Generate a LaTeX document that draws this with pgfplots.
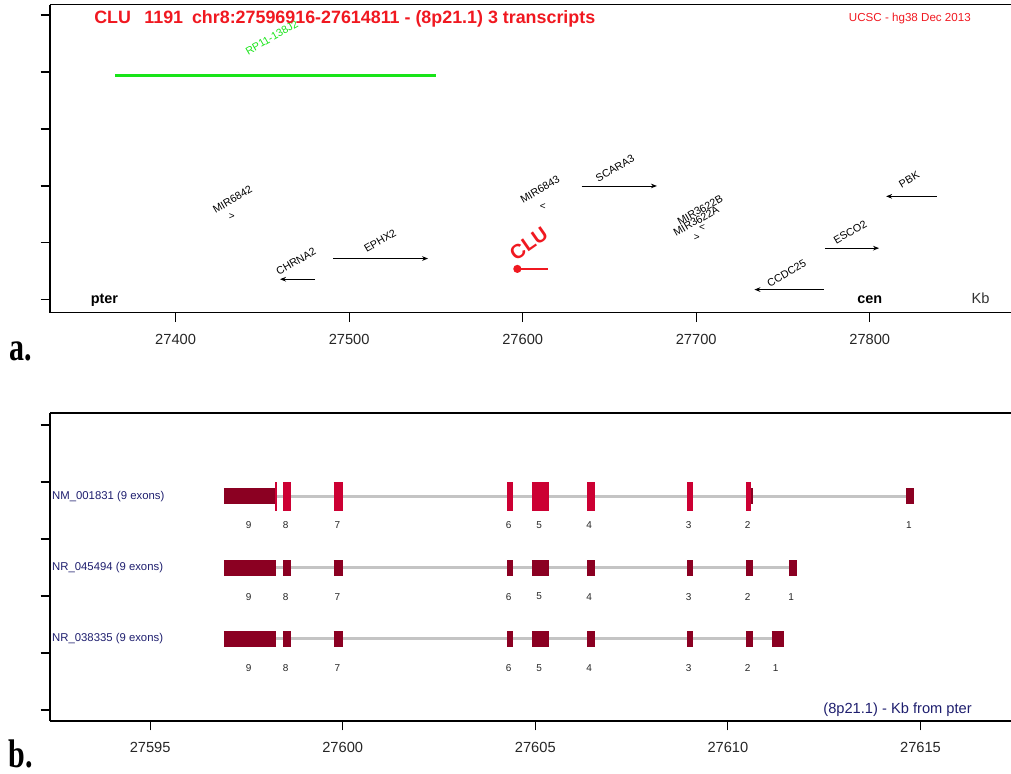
\documentclass[border=0pt]{standalone}
\usepackage{fontspec}
\setmainfont{Liberation Sans}
\newfontfamily\panelfont{Liberation Serif}
\usepackage{pgfplots}
\pgfplotsset{compat=1.18}
\usetikzlibrary{arrows.meta}

\definecolor{titlered}{RGB}{240,24,32}
\definecolor{clonegreen}{RGB}{24,228,24}
\definecolor{cdsred}{RGB}{204,0,51}
\definecolor{utrred}{RGB}{139,0,34}
\definecolor{introngray}{RGB}{196,196,196}
\definecolor{navy}{RGB}{30,30,110}

\newcommand\fs[1]{\fontsize{#1}{#1}\selectfont}

\pgfplotsset{
  panel/.style={
    scale only axis, anchor=south west,
    width=720.75pt, height=231pt,
    axis x line*=bottom, axis y line*=left,
    axis line style={-, line width=1.1pt, black},
    tick align=outside, major tick length=7pt,
    tick style={black, line width=0.8pt},
    ytick={0,1,2,3,4,5}, yticklabels={},
    clip=false,
    scaled x ticks=false,
    /pgf/number format/assume math mode=true,
    /pgf/number format/1000 sep={},
    /pgf/number format/fixed,
    /pgf/number format/precision=0,
    xticklabel style={font=\fs{11}, text=black!85, yshift=-5.5pt},
  },
  gene/.style={black, line width=0.7pt, -{Stealth[length=4.5pt,width=3.5pt]}},
  mirmark/.style={only marks, mark=text, text mark={\fs{7.5}#1}},
  exon/.style={line width=#1, unbounded coords=jump},
}
\tikzset{
  glab/.style={font=\fs{8}, rotate=30, anchor=center, inner sep=0pt},
  numlab/.style={font=\fs{7.5}, text=black!85, anchor=center, inner sep=0pt},
  txlab/.style={font=\fs{8.5}, text=navy, anchor=west, inner sep=0pt},
}

\begin{document}
\begin{tikzpicture}
\useasboundingbox (0pt,0pt) rectangle (758.25pt,-580.5pt);

% ---------- a. genomic neighbourhood (Kb) ----------
\begin{axis}[panel, at={(37.5pt,-234.5pt)},
  xmin=27327.6, xmax=27881.4, ymin=-0.223, ymax=5.181,
  xtick={27400,27500,27600,27700,27800}]
  \draw[line width=1.1pt] (rel axis cs:0,1) -- (rel axis cs:1,1);

  % clone
  \addplot[clonegreen, line width=2.25pt] coordinates {(27365.06,3.93) (27550.08,3.93)};
  \node[glab, text=clonegreen] at (axis cs:27455.4,4.605) {RP11-138J2};

  % genes, one row each
  \addplot[gene] coordinates {(27773.53,0.182) (27733.53,0.182)}; % CCDC25
  \addplot[gene] coordinates {(27480.33,0.364) (27460.16,0.364)}; % CHRNA2
  \addplot[titlered, line width=1.8pt, mark=*, mark size=2.1pt, mark indices={1},
           mark options={fill=titlered}]
           coordinates {(27596.916,0.545) (27614.811,0.545)};      % CLU
  \addplot[gene] coordinates {(27490.71,0.727) (27545.47,0.727)}; % EPHX2
  \addplot[gene] coordinates {(27774.11,0.909) (27805.35,0.909)}; % ESCO2
  \addplot[mirmark={>}] coordinates {(27700.35,1.091)};           % MIR3622A
  \addplot[mirmark={<}] coordinates {(27703.28,1.273)};           % MIR3622B
  \addplot[mirmark={>}] coordinates {(27432.33,1.455)};           % MIR6842
  \addplot[mirmark={<}] coordinates {(27611.52,1.636)};           % MIR6843
  \addplot[gene] coordinates {(27838.55,1.818) (27809.44,1.818)}; % PBK
  \addplot[gene] coordinates {(27633.99,2.000) (27677.33,2.000)}; % SCARA3

  \node[glab] at (axis cs:27752.1,0.465) {CCDC25};
  \node[glab] at (axis cs:27469.4,0.675) {CHRNA2};
  \node[glab, font=\fs{15}\bfseries, text=titlered, rotate=5]
       at (axis cs:27603.5,0.985) {CLU};
  \node[glab] at (axis cs:27517.8,1.035) {EPHX2};
  \node[glab] at (axis cs:27788.7,1.193) {ESCO2};
  \node[glab] at (axis cs:27700.0,1.386) {MIR3622A};
  \node[glab] at (axis cs:27702.2,1.579) {MIR3622B};
  \node[glab] at (axis cs:27432.8,1.763) {MIR6842};
  \node[glab] at (axis cs:27610.0,1.939) {MIR6843};
  \node[glab] at (axis cs:27822.7,2.112) {PBK};
  \node[glab] at (axis cs:27653.2,2.307) {SCARA3};

  \node[anchor=base, font=\fs{10.8}\bfseries] at (axis cs:27359.0,-0.07) {pter};
  \node[anchor=base, font=\fs{10.8}\bfseries] at (axis cs:27800.0,-0.07) {cen};
  \node[anchor=base, font=\fs{11}, text=black!80] at (axis cs:27863.9,-0.07) {Kb};
\end{axis}

% ---------- b. CLU transcripts (Kb) ----------
\begin{axis}[panel, at={(37.5pt,-540.75pt)},
  xmin=27592.40, xmax=27617.35, ymin=-0.193, ymax=5.211,
  xtick={27595,27600,27605,27610,27615}]
  \draw[line width=1.1pt] (rel axis cs:0,1) -- (rel axis cs:1,1);

  % introns
  \addplot[introngray, exon=2.25pt] table {
x y
27596.917 3.75
27614.822 3.75
nan nan
27596.917 2.50
27611.784 2.50
nan nan
27596.917 1.25
27611.455 1.25
};

  % untranslated / non-coding exons
  \addplot[utrred, exon=12pt] table {
x y
27596.917 3.75
27598.254 3.75
nan nan
27610.598 3.75
27610.642 3.75
nan nan
27614.630 3.75
27614.822 3.75
nan nan
27596.917 2.50
27598.270 2.50
nan nan
27598.457 2.50
27598.649 2.50
nan nan
27599.765 2.50
27600.014 2.50
nan nan
27604.272 2.50
27604.428 2.50
nan nan
27604.913 2.50
27605.362 2.50
nan nan
27606.348 2.50
27606.540 2.50
nan nan
27608.944 2.50
27609.100 2.50
nan nan
27610.468 2.50
27610.640 2.50
nan nan
27611.593 2.50
27611.784 2.50
nan nan
27596.917 1.25
27598.270 1.25
nan nan
27598.457 1.25
27598.649 1.25
nan nan
27599.765 1.25
27600.014 1.25
nan nan
27604.272 1.25
27604.428 1.25
nan nan
27604.913 1.25
27605.362 1.25
nan nan
27606.348 1.25
27606.540 1.25
nan nan
27608.944 1.25
27609.100 1.25
nan nan
27610.468 1.25
27610.640 1.25
nan nan
27611.138 1.25
27611.455 1.25
};

  % coding exons of NM_001831
  \addplot[cdsred, exon=21.75pt] table {
x y
27598.254 3.75
27598.285 3.75
nan nan
27598.457 3.75
27598.649 3.75
nan nan
27599.765 3.75
27600.014 3.75
nan nan
27604.272 3.75
27604.428 3.75
nan nan
27604.913 3.75
27605.362 3.75
nan nan
27606.348 3.75
27606.540 3.75
nan nan
27608.944 3.75
27609.100 3.75
nan nan
27610.468 3.75
27610.598 3.75
};

  \node[txlab] at (axis cs:27592.45,3.75) {NM\_001831 (9 exons)};
  \node[txlab] at (axis cs:27592.45,2.50) {NR\_045494 (9 exons)};
  \node[txlab] at (axis cs:27592.45,1.25) {NR\_038335 (9 exons)};

  % exon numbers
  \foreach \r/\one in {3.24/27614.70, 1.99/27611.64, 0.74/27611.24}{
    \edef\temp{\noexpand\node[numlab] at (axis cs:27597.56,\r) {9};
      \noexpand\node[numlab] at (axis cs:27598.52,\r) {8};
      \noexpand\node[numlab] at (axis cs:27599.86,\r) {7};
      \noexpand\node[numlab] at (axis cs:27604.31,\r) {6};
      \noexpand\node[numlab] at (axis cs:27605.10,\r) {5};
      \noexpand\node[numlab] at (axis cs:27606.40,\r) {4};
      \noexpand\node[numlab] at (axis cs:27608.98,\r) {3};
      \noexpand\node[numlab] at (axis cs:27610.51,\r) {2};
      \noexpand\node[numlab] at (axis cs:\one,\r) {1};}
    \temp
  }
\end{axis}

% titles and panel letters
\node[anchor=base west, font=\fs{13.4}\bfseries, text=titlered, inner sep=0pt]
  at (70.5pt,-17.5pt) {CLU\hspace{0.75em}1191\hspace{0.5em}chr8:27596916-27614811 - (8p21.1) 3 transcripts};
\node[anchor=base west, font=\fs{8.7}, text=titlered, inner sep=0pt]
  at (636.5pt,-16.3pt) {UCSC - hg38 Dec 2013};
\node[anchor=base east, font=\fs{11}, text=navy, inner sep=0pt]
  at (729pt,-534.75pt) {(8p21.1) - Kb from pter};
\node[anchor=base, font=\fs{22.5}\panelfont\bfseries, yscale=1.33, inner sep=0pt]
  at (15.75pt,-270pt) {a.};
\node[anchor=base, font=\fs{22.5}\panelfont\bfseries, yscale=1.33, inner sep=0pt]
  at (15.75pt,-575.25pt) {b.};
\end{tikzpicture}
\end{document}
